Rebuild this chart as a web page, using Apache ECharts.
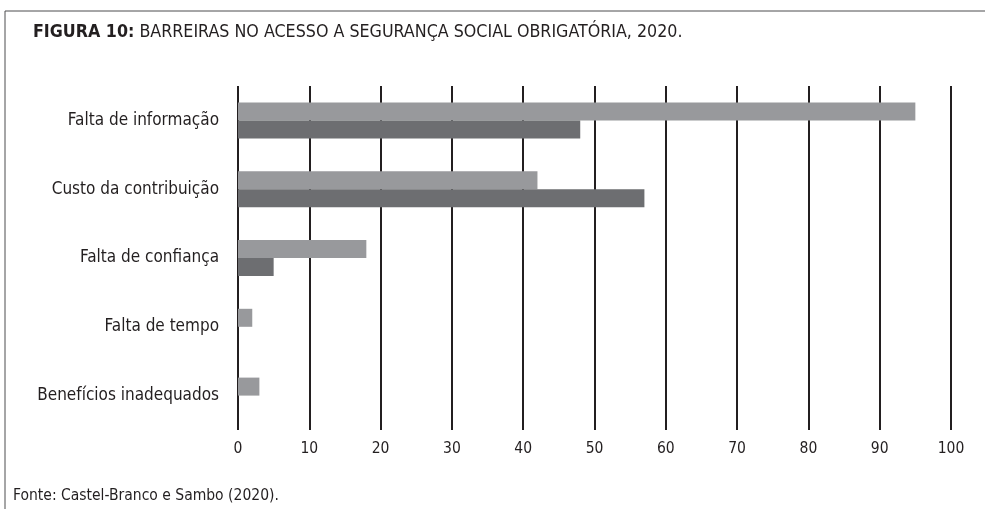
<!DOCTYPE html>
<html>
<head>
<meta charset="utf-8">
<script src="https://cdn.jsdelivr.net/npm/echarts@6/dist/echarts.min.js"></script>
<style>
  html, body { margin: 0; padding: 0; background: #fff; }
  #chart { width: 985px; height: 509px; }
</style>
</head>
<body>
<div id="chart"></div>
<script>
const categories = [
  'Falta de informação',
  'Custo da contribuição',
  'Falta de confiança',
  'Falta de tempo',
  'Benefícios inadequados',
];
const serieA = [95, 42, 18, 2, 3];
const serieB = [48, 57, 5, 0, 0];
const xTicks = [0, 10, 20, 30, 40, 50, 60, 70, 80, 90, 100];

const fontCond = '"DejaVu Sans Condensed", "Liberation Sans Narrow", sans-serif';

const chart = echarts.init(document.getElementById('chart'));
chart.setOption({
  backgroundColor: '#fff',
  animation: false,
  grid: { left: 238, right: 34, top: 86, bottom: 79, containLabel: false },
  graphic: [
    {
      type: 'polyline',
      shape: { points: [[5, 509], [5, 11], [985, 11]] },
      style: { stroke: '#4d4d4f', lineWidth: 1, fill: null },
    },
    {
      type: 'text',
      left: 33,
      top: 23,
      style: {
        text: '{b|FIGURA 10:} BARREIRAS NO ACESSO A SEGURANÇA SOCIAL OBRIGATÓRIA, 2020.',
        rich: {
          b: { fontFamily: fontCond, fontWeight: 'bold', fontSize: 17.7, fill: '#231f20' },
        },
        fontFamily: fontCond,
        fontSize: 17.7,
        fill: '#231f20',
      },
    },
    {
      type: 'text',
      left: 13,
      top: 488,
      style: {
        text: 'Fonte: Castel-Branco e Sambo (2020).',
        fontFamily: fontCond,
        fontSize: 15.5,
        fill: '#231f20',
      },
    },
  ],
  xAxis: {
    type: 'value',
    min: xTicks[0],
    max: xTicks[xTicks.length - 1],
    interval: 10,
    axisLine: { show: false },
    axisTick: { show: false },
    axisLabel: {
      margin: 11,
      fontFamily: fontCond,
      fontSize: 15.5,
      color: '#231f20',
    },
    splitLine: { show: true, lineStyle: { color: '#231f20', width: 2 } },
  },
  yAxis: {
    type: 'category',
    inverse: true,
    data: categories,
    axisLine: { show: false },
    axisTick: { show: false },
    axisLabel: {
      margin: 19,
      fontFamily: fontCond,
      fontSize: 17,
      color: '#231f20',
    },
  },
  series: [
    {
      type: 'bar',
      data: serieA,
      barWidth: 18,
      barGap: '0%',
      itemStyle: { color: '#98999c' },
    },
    {
      type: 'bar',
      data: serieB,
      barWidth: 18,
      itemStyle: { color: '#6d6e71' },
    },
  ],
});
</script>
</body>
</html>
